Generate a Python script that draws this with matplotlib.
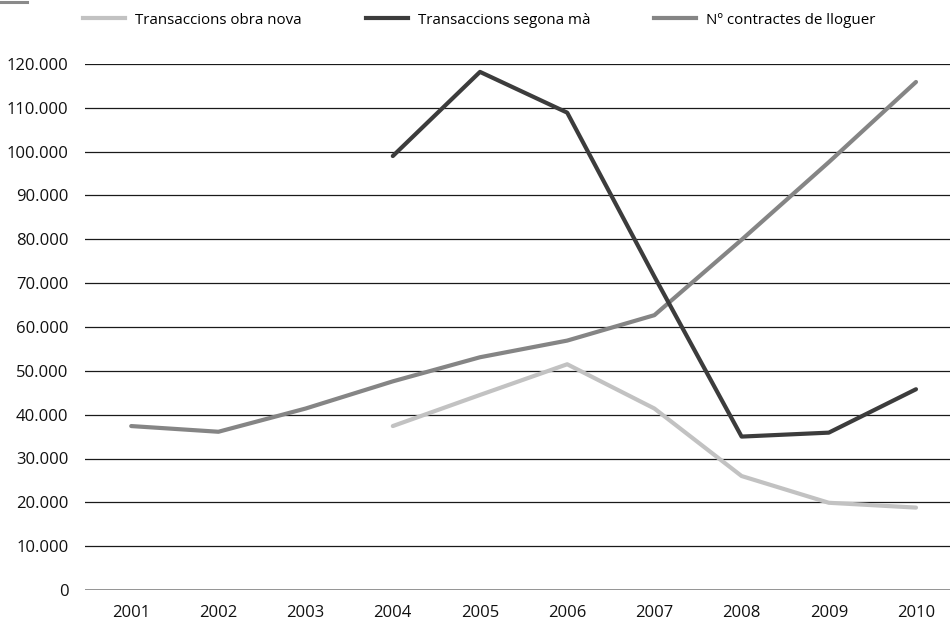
import numpy as np
import matplotlib.pyplot as plt
from matplotlib.lines import Line2D
from matplotlib.ticker import FuncFormatter, MultipleLocator

years = [2001, 2002, 2003, 2004, 2005, 2006, 2007, 2008, 2009, 2010]

# series start in 2004 for both transaction counts
obra_nova_years = [2004, 2005, 2006, 2007, 2008, 2009, 2010]
obra_nova = [37400, 44500, 51500, 41400, 26000, 19900, 18800]

segona_ma_years = [2004, 2005, 2006, 2007, 2008, 2009, 2010]
segona_ma = [99000, 118200, 108900, 71500, 35000, 35900, 45800]

lloguer = [37400, 36100, 41400, 47600, 53100, 56900, 62700, 79900, 97600, 115900]

labels = ["Transaccions obra nova", "Transaccions segona mà", "Nº contractes de lloguer"]

plt.rcParams["font.family"] = ["Open Sans", "DejaVu Sans"]

fig = plt.figure(figsize=(9.5, 6.23), dpi=100)
ax = fig.add_axes([85 / 950, 1 - 590 / 623, 865 / 950, (590 - 64) / 623])

c_light = "#c2c2c2"
c_dark = "#3c3c3c"
c_mid = "#858585"

# horizontal grid, zero line drawn heavier and grey
for v in range(10000, 130000, 10000):
    ax.axhline(v, color="#1a1a1a", lw=0.9, zorder=1)
ax.axhline(0, color="#8a8a8a", lw=2.0, zorder=1)

ax.plot(obra_nova_years, obra_nova, color=c_light, lw=3, zorder=3,
        solid_capstyle="round", clip_on=False, label=labels[0])
ax.plot(segona_ma_years, segona_ma, color=c_dark, lw=3, zorder=4,
        solid_capstyle="round", clip_on=False, label=labels[1])
ax.plot(years, lloguer, color=c_mid, lw=3, zorder=3,
        solid_capstyle="round", clip_on=False, label=labels[2])

ax.set_xlim(2000.47, 2010.39)
ax.set_ylim(0, 120000)
ax.set_xticks(years)
ax.yaxis.set_major_locator(MultipleLocator(10000))
ax.yaxis.set_major_formatter(
    FuncFormatter(lambda v, p: f"{int(v):,}".replace(",", ".")))
ax.tick_params(axis="both", length=0, labelsize=12, colors="#111111")
ax.tick_params(axis="y", pad=12)
ax.tick_params(axis="x", pad=11)
for s in ax.spines.values():
    s.set_visible(False)

handles = [Line2D([], [], color=c, lw=3) for c in (c_light, c_dark, c_mid)]
fs = 10.9
px = fs * 100 / 72
fig.legend(handles, labels, loc="center left", bbox_to_anchor=(83 / 950, 1 - 20 / 623),
           ncol=3, frameon=False, borderpad=0, borderaxespad=0,
           handlelength=42 / px, handletextpad=10 / px, columnspacing=64 / px,
           prop={"size": fs})

# small grey tab in the corner
fig.add_artist(Line2D([0, 27 / 950], [1 - 1.5 / 623, 1 - 1.5 / 623],
                      color="#8a8a8a", lw=2.2, transform=fig.transFigure))

fig.savefig("out.png", dpi=100)
